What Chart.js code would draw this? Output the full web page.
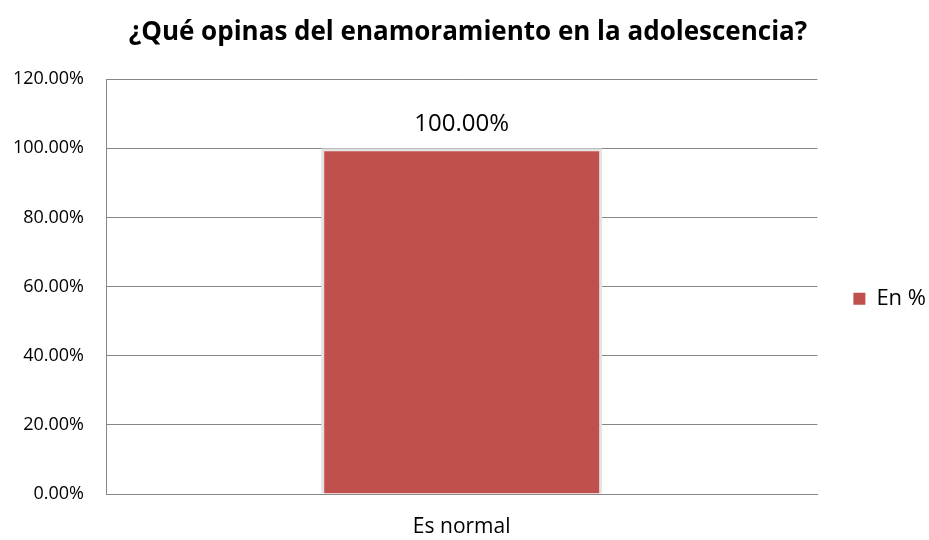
<!DOCTYPE html>
<html>
<head>
<meta charset="utf-8">
<script src="https://cdn.jsdelivr.net/npm/chart.js@4"></script>
<style>
  body { margin: 0; background: #fff; }
  #wrap { width: 929px; height: 540px; }
</style>
</head>
<body>
<div id="wrap"><canvas id="chart" width="929" height="540"></canvas></div>
<script>
// datos del grafico
const categories = ['Es normal'];
const seriesName = 'En %';
const seriesValues = [100];
const yTicks = [0, 20, 40, 60, 80, 100, 120];

const chartTitle = '¿Qué opinas del enamoramiento en la adolescencia?';
const fontFamily = '"Open Sans", "Noto Sans", sans-serif';

// etiqueta encima de la barra
const barLabels = {
    id: 'barLabels',
    afterDatasetsDraw(chart) {
        const ctx = chart.ctx;
        ctx.save();
        ctx.font = '24px ' + fontFamily;
        ctx.fillStyle = '#000';
        ctx.textAlign = 'center';
        ctx.textBaseline = 'middle';
        chart.getDatasetMeta(0).data.forEach((bar, i) => {
            const v = chart.data.datasets[0].data[i];
            ctx.fillText(v.toFixed(2) + '%', bar.x, bar.y - 24);
        });
        ctx.restore();
    }
};

const defaultLabels = Chart.defaults.plugins.legend.labels.generateLabels;

new Chart(document.getElementById('chart').getContext('2d'), {
    type: 'bar',
    data: {
        labels: categories,
        datasets: [{
            label: seriesName,
            data: seriesValues,
            backgroundColor: '#C0504D',
            borderColor: '#E3E3E3',
            borderWidth: 3,
            barPercentage: 0.395,
            categoryPercentage: 1
        }]
    },
    options: {
        responsive: false,
        animation: false,
        layout: { padding: { top: 17, left: 0, right: -7, bottom: 0 } },
        plugins: {
            title: {
                display: true,
                text: chartTitle,
                color: '#000',
                font: { family: fontFamily, size: 26, weight: 'bold' },
                padding: { top: 0, bottom: 31 }
            },
            legend: {
                position: 'right',
                // titulo vacio para bajar un poco la leyenda
                title: { display: true, text: ' ', font: { size: 12 }, padding: { top: 13, bottom: 13 } },
                labels: {
                    color: '#000',
                    boxWidth: 12,
                    boxHeight: 12,
                    font: { family: fontFamily, size: 22 },
                    padding: 36,
                    generateLabels: chart => defaultLabels(chart).map(l => Object.assign(l, { lineWidth: 0 }))
                }
            },
            tooltip: { enabled: false }
        },
        scales: {
            y: {
                min: 0,
                max: 120,
                afterBuildTicks: axis => { axis.ticks = yTicks.map(v => ({ value: v })); },
                afterFit: axis => { axis.width = 106; },
                ticks: {
                    color: '#000',
                    font: { family: fontFamily, size: 18 },
                    padding: 22,
                    callback: v => v.toFixed(2) + '%'
                },
                grid: { color: '#868686', drawTicks: false, lineWidth: 1 },
                border: { color: '#868686' }
            },
            x: {
                afterFit: axis => { axis.height = 46; },
                ticks: {
                    color: '#000',
                    font: { family: fontFamily, size: 21 },
                    padding: 20
                },
                grid: { display: false, drawTicks: false },
                border: { color: '#868686' }
            }
        }
    },
    plugins: [barLabels]
});
</script>
</body>
</html>
